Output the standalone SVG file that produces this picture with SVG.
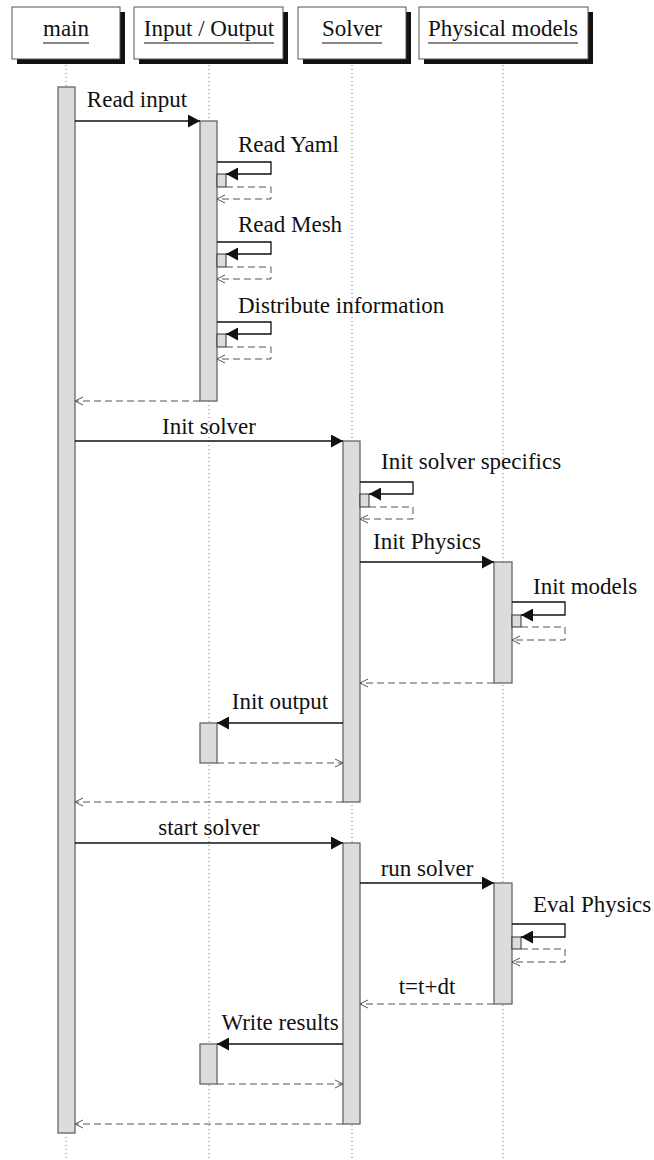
<svg xmlns="http://www.w3.org/2000/svg" width="654" height="1160" viewBox="0 0 654 1160" font-family="'Liberation Serif', 'Times New Roman', 'DejaVu Serif', serif">
  <style>
    .hdr { fill: #ffffff; stroke: #555555; stroke-width: 1; }
    .shadow { fill: #111111; }
    .life { stroke: #777777; stroke-width: 1; stroke-dasharray: 1 3; fill: none; }
    .bar { fill: #dcdcdc; stroke: #666666; stroke-width: 1.3; }
    .sbar { fill: #dcdcdc; stroke: #333333; stroke-width: 1; }
    text { font-family: 'Liberation Serif', 'Times New Roman', 'DejaVu Serif', serif; font-size: 23px; fill: #111111; }
    .mid { text-anchor: middle; }
    .uline { stroke: #111111; stroke-width: 1; }
    .call { stroke: #111111; stroke-width: 1.3; fill: none; marker-end: url(#solid); }
    .ret { stroke: #555555; stroke-width: 1; stroke-dasharray: 7 4; fill: none; marker-end: url(#open); }
  </style>
  <defs>
    <marker id="solid" markerUnits="userSpaceOnUse" markerWidth="12" markerHeight="13" refX="12" refY="6.5" orient="auto">
      <path d="M0,0 L12,6.5 L0,13 Z" fill="#111111"/>
    </marker>
    <marker id="open" markerUnits="userSpaceOnUse" markerWidth="10" markerHeight="10" refX="9" refY="5" orient="auto">
      <path d="M1,1 L9,5 L1,9" fill="none" stroke="#555555" stroke-width="1"/>
    </marker>
  </defs>

  <rect width="654" height="1160" fill="#ffffff"/>

  <!-- main -->
  <g id="main">
    <line class="life" x1="66" y1="65" x2="66" y2="1160"/>
    <rect class="shadow" x="17" y="12" width="108" height="52"/>
    <rect class="hdr" x="12" y="7" width="108" height="52"/>
    <text class="mid" x="66" y="36">main</text>
    <line class="uline" x1="43" y1="43" x2="89" y2="43"/>
    <rect class="bar" x="58" y="87" width="17" height="1046"/>
  </g>

  <!-- Input / Output -->
  <g id="io">
    <line class="life" x1="209" y1="65" x2="209" y2="1160"/>
    <rect class="shadow" x="139" y="12" width="149" height="52"/>
    <rect class="hdr" x="134" y="7" width="149" height="52"/>
    <text class="mid" x="209" y="36">Input / Output</text>
    <line class="uline" x1="144" y1="43" x2="274" y2="43"/>
    <rect class="bar" x="200" y="121" width="17" height="280"/>
    <rect class="sbar" x="217" y="174" width="9" height="13"/>
    <rect class="sbar" x="217" y="254" width="9" height="13"/>
    <rect class="sbar" x="217" y="334" width="9" height="13"/>
    <rect class="bar" x="200" y="723" width="17" height="40"/>
    <rect class="bar" x="200" y="1044" width="17" height="40"/>
  </g>

  <!-- Solver -->
  <g id="solver">
    <line class="life" x1="352" y1="65" x2="352" y2="1160"/>
    <rect class="shadow" x="303" y="12" width="108" height="52"/>
    <rect class="hdr" x="298" y="7" width="108" height="52"/>
    <text class="mid" x="352" y="36">Solver</text>
    <line class="uline" x1="322" y1="43" x2="382" y2="43"/>
    <rect class="bar" x="343" y="441" width="17" height="361"/>
    <rect class="sbar" x="360" y="494" width="9" height="13"/>
    <rect class="bar" x="343" y="843" width="17" height="281"/>
  </g>

  <!-- Physical models -->
  <g id="physics">
    <line class="life" x1="503" y1="65" x2="503" y2="1160"/>
    <rect class="shadow" x="424" y="12" width="169" height="52"/>
    <rect class="hdr" x="419" y="7" width="169" height="52"/>
    <text class="mid" x="503" y="36">Physical models</text>
    <line class="uline" x1="428" y1="43" x2="578" y2="43"/>
    <rect class="bar" x="494" y="562" width="18" height="121"/>
    <rect class="sbar" x="512" y="615" width="9" height="12"/>
    <rect class="bar" x="494" y="883" width="18" height="121"/>
    <rect class="sbar" x="512" y="937" width="9" height="12"/>
  </g>

  <!-- messages -->
  <g id="connectors">
    <path class="call" d="M75,121 H200"/>
    <text class="mid" x="137" y="107">Read input</text>

    <path class="call" d="M217,162 H271 V174 H226"/>
    <path class="ret" d="M226,187 H271 V199 H217"/>
    <text x="238" y="152">Read Yaml</text>

    <path class="call" d="M217,242 H271 V254 H226"/>
    <path class="ret" d="M226,267 H271 V279 H217"/>
    <text x="238" y="232">Read Mesh</text>

    <path class="call" d="M217,322 H271 V334 H226"/>
    <path class="ret" d="M226,347 H271 V359 H217"/>
    <text x="238" y="313">Distribute information</text>

    <path class="ret" d="M200,401 H75"/>

    <path class="call" d="M75,441 H343"/>
    <text class="mid" x="209" y="434">Init solver</text>

    <path class="call" d="M360,482 H413 V494 H369"/>
    <path class="ret" d="M369,507 H413 V519 H360"/>
    <text x="381" y="469">Init solver specifics</text>

    <path class="call" d="M360,562 H494"/>
    <text class="mid" x="427" y="549">Init Physics</text>

    <path class="call" d="M512,602 H565 V615 H521"/>
    <path class="ret" d="M521,627 H565 V640 H512"/>
    <text x="533" y="594">Init models</text>

    <path class="ret" d="M494,683 H360"/>

    <path class="call" d="M343,723 H217"/>
    <text class="mid" x="280" y="709">Init output</text>
    <path class="ret" d="M217,763 H343"/>

    <path class="ret" d="M343,802 H75"/>

    <path class="call" d="M75,843 H343"/>
    <text class="mid" x="209" y="835">start solver</text>

    <path class="call" d="M360,883 H494"/>
    <text class="mid" x="427" y="876">run solver</text>

    <path class="call" d="M512,924 H565 V937 H521"/>
    <path class="ret" d="M521,949 H565 V962 H512"/>
    <text x="533" y="912">Eval Physics</text>

    <path class="ret" d="M494,1004 H360"/>
    <text class="mid" x="427" y="994">t=t+dt</text>

    <path class="call" d="M343,1044 H217"/>
    <text class="mid" x="280" y="1030">Write results</text>
    <path class="ret" d="M217,1084 H343"/>

    <path class="ret" d="M343,1124 H75"/>
  </g>
</svg>
